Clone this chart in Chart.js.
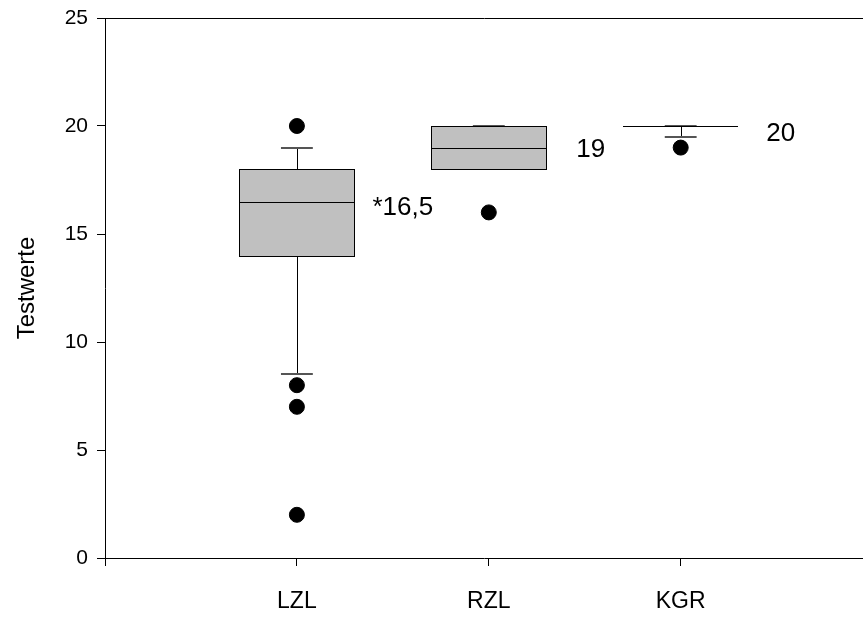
<!DOCTYPE html>
<html>
<head>
<meta charset="utf-8">
<script src="https://cdn.jsdelivr.net/npm/chart.js@4.4.0/dist/chart.umd.min.js"></script>
<style>
  html, body { margin: 0; padding: 0; background: #fff; overflow: hidden; }
  canvas { display: block; }
</style>
</head>
<body>
<canvas id="box-chart" width="863" height="635"></canvas>
<script>
// data
var categories = ['LZL', 'RZL', 'KGR'];
var lowerWhisker = [8.5, 18, 19.5];
var q1 = [14, 18, 20];
var medians = [16.5, 19, 20];
var q3 = [18, 20, 20];
var upperWhisker = [19, 20, 20];
var outliers = [[20, 8, 7, 2], [16], [19]];
var medianLabels = ['*16,5', '19', '20'];
var yTicks = [0, 5, 10, 15, 20, 25];

var FONT = "'Liberation Sans', Arial, sans-serif";

var outlierPoints = [];
outliers.forEach(function(list, i) {
  list.forEach(function(v) {
    outlierPoints.push({ x: i + 1, y: v });
  });
});

// boxes, whiskers and the little value labels
var boxPlugin = {
  id: 'boxes',
  beforeDatasetsDraw: function(chart) {
    var ctx = chart.ctx;
    var xs = chart.scales.x, ys = chart.scales.y;
    var halfBox = 0.3, halfCap = 0.083;
    ctx.save();
    categories.forEach(function(c, i) {
      var cx = Math.round(xs.getPixelForValue(i + 1)) + 0.5;
      var left = Math.round(xs.getPixelForValue(i + 1 - halfBox));
      var right = Math.round(xs.getPixelForValue(i + 1 + halfBox));
      var capL = xs.getPixelForValue(i + 1 - halfCap);
      var capR = xs.getPixelForValue(i + 1 + halfCap);
      var top = Math.round(ys.getPixelForValue(q3[i]));
      var bot = Math.round(ys.getPixelForValue(q1[i]));
      var med = Math.round(ys.getPixelForValue(medians[i])) + 0.5;
      var wHi = Math.round(ys.getPixelForValue(upperWhisker[i]));
      var wLo = Math.round(ys.getPixelForValue(lowerWhisker[i]));

      // whiskers
      ctx.strokeStyle = '#000';
      ctx.lineWidth = 1;
      ctx.beginPath();
      ctx.moveTo(cx, top); ctx.lineTo(cx, wHi);
      ctx.moveTo(cx, bot); ctx.lineTo(cx, wLo);
      ctx.stroke();
      ctx.strokeStyle = '#555';
      ctx.lineWidth = 2;
      ctx.beginPath();
      ctx.moveTo(capL, wHi); ctx.lineTo(capR, wHi);
      ctx.moveTo(capL, wLo); ctx.lineTo(capR, wLo);
      ctx.stroke();

      // box
      ctx.lineWidth = 1;
      ctx.strokeStyle = '#000';
      if (bot - top > 0) {
        ctx.fillStyle = '#c0c0c0';
        ctx.fillRect(left, top, right - left, bot - top);
        ctx.strokeRect(left + 0.5, top + 0.5, right - left, bot - top);
      }
      ctx.beginPath();
      ctx.moveTo(left, med); ctx.lineTo(right, med);
      ctx.stroke();
    });

    // labels next to the medians
    var offX = [18, 30, 28];
    var offY = [6, 2, 8];
    ctx.fillStyle = '#000';
    ctx.font = '26px ' + FONT;
    ctx.textAlign = 'left';
    ctx.textBaseline = 'middle';
    medianLabels.forEach(function(t, i) {
      var x = xs.getPixelForValue(i + 1 + halfBox) + offX[i];
      var y = ys.getPixelForValue(medians[i]) + offY[i];
      ctx.fillText(t, x, y);
    });
    ctx.restore();
  }
};

var myChart = new Chart(document.getElementById('box-chart'), {
  type: 'scatter',
  data: {
    datasets: [{
      data: outlierPoints,
      backgroundColor: '#000',
      borderColor: '#000',
      pointRadius: 7.5,
      pointHoverRadius: 7.5
    }]
  },
  options: {
    responsive: false,
    animation: false,
    events: [],
    layout: { autoPadding: false, padding: { top: 18, right: 0, left: 0, bottom: 0 } },
    plugins: {
      legend: { display: false },
      tooltip: { enabled: false }
    },
    scales: {
      x: {
        type: 'linear',
        min: 0,
        max: 3.95,
        afterBuildTicks: function(scale) {
          scale.ticks = [0, 1, 2, 3].map(function(v) { return { value: v }; });
        },
        afterFit: function(scale) {
          scale.height = 77;
          scale.paddingLeft = 0;
          scale.paddingRight = 0;
        },
        ticks: {
          autoSkip: false,
          maxRotation: 0,
          padding: 22,
          color: '#000',
          font: { family: FONT, size: 23 },
          callback: function(v) { return v >= 1 ? categories[v - 1] : ''; }
        },
        grid: {
          drawOnChartArea: false,
          drawTicks: true,
          tickLength: 8,
          color: '#000',
          tickColor: '#000'
        },
        border: { display: true, color: '#000', width: 1 }
      },
      y: {
        min: 0,
        max: 25,
        afterBuildTicks: function(scale) {
          scale.ticks = yTicks.map(function(v) { return { value: v }; });
        },
        afterFit: function(scale) {
          scale.width = 105;
          scale.paddingTop = 0;
          scale.paddingBottom = 0;
        },
        ticks: {
          padding: 9,
          color: '#000',
          font: { family: FONT, size: 21 }
        },
        title: {
          display: true,
          text: 'Testwerte',
          color: '#000',
          font: { family: FONT, size: 24 },
          padding: { top: 13, bottom: 10 }
        },
        grid: {
          drawOnChartArea: true,
          drawTicks: true,
          tickLength: 8,
          color: function(c) { return c.tick && c.tick.value === 25 ? '#000' : 'rgba(0,0,0,0)'; },
          tickColor: '#000'
        },
        border: { display: true, color: '#000', width: 1 }
      }
    }
  },
  plugins: [boxPlugin]
});
</script>
</body>
</html>
